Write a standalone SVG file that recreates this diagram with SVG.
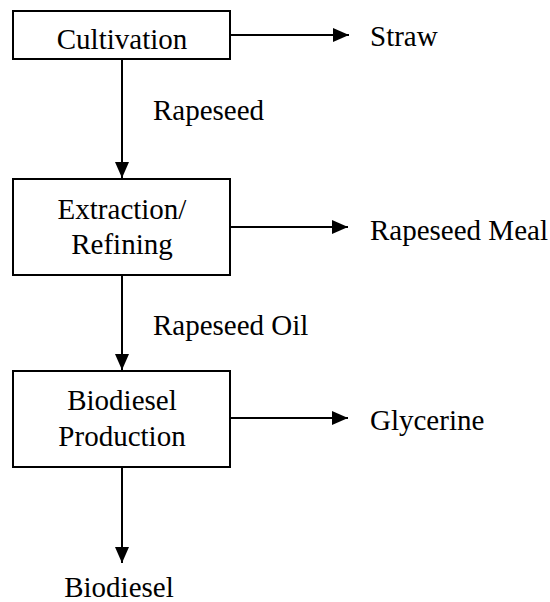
<svg xmlns="http://www.w3.org/2000/svg" width="550" height="602" viewBox="0 0 550 602">
<style>
.box{fill:#fff;stroke:#000;stroke-width:2}
.ln{fill:none;stroke:#000;stroke-width:2}
.c{text-anchor:middle}
</style>
<defs>
<marker id="ah" markerUnits="userSpaceOnUse" markerWidth="16" markerHeight="16" viewBox="0 0 16 16" refX="16" refY="8" orient="auto">
<path d="M0,1 L16,8 L0,15 Z" fill="#000"/>
</marker>
</defs>
<rect width="550" height="602" fill="#fff"/>
<g font-family="Liberation Serif, Times New Roman, serif" font-size="29" fill="#000">
<g id="connectors">
<line class="ln" x1="230" y1="35" x2="349" y2="35" marker-end="url(#ah)"/>
<line class="ln" x1="122" y1="59" x2="122" y2="178" marker-end="url(#ah)"/>
<line class="ln" x1="230" y1="227" x2="348" y2="227" marker-end="url(#ah)"/>
<line class="ln" x1="122" y1="275" x2="122" y2="370" marker-end="url(#ah)"/>
<line class="ln" x1="230" y1="418" x2="348" y2="418" marker-end="url(#ah)"/>
<line class="ln" x1="122" y1="467" x2="122" y2="563" marker-end="url(#ah)"/>
<text x="153" y="120">Rapeseed</text>
<text x="153" y="335">Rapeseed Oil</text>
</g>
<g id="cultivation">
<rect class="box" x="13" y="11" width="217" height="48"/>
<text class="c" x="122" y="49">Cultivation</text>
</g>
<g id="extraction">
<rect class="box" x="13" y="179" width="217" height="96"/>
<text class="c" x="122" y="219">Extraction/</text>
<text class="c" x="122" y="254">Refining</text>
</g>
<g id="biodiesel-production">
<rect class="box" x="13" y="371" width="217" height="96"/>
<text class="c" x="122" y="410">Biodiesel</text>
<text class="c" x="122" y="446">Production</text>
</g>
<g id="straw"><text x="370" y="46">Straw</text></g>
<g id="meal"><text x="370" y="240">Rapeseed Meal</text></g>
<g id="glycerine"><text x="370" y="430">Glycerine</text></g>
<g id="biodiesel"><text class="c" x="119" y="597">Biodiesel</text></g>
</g>
</svg>
